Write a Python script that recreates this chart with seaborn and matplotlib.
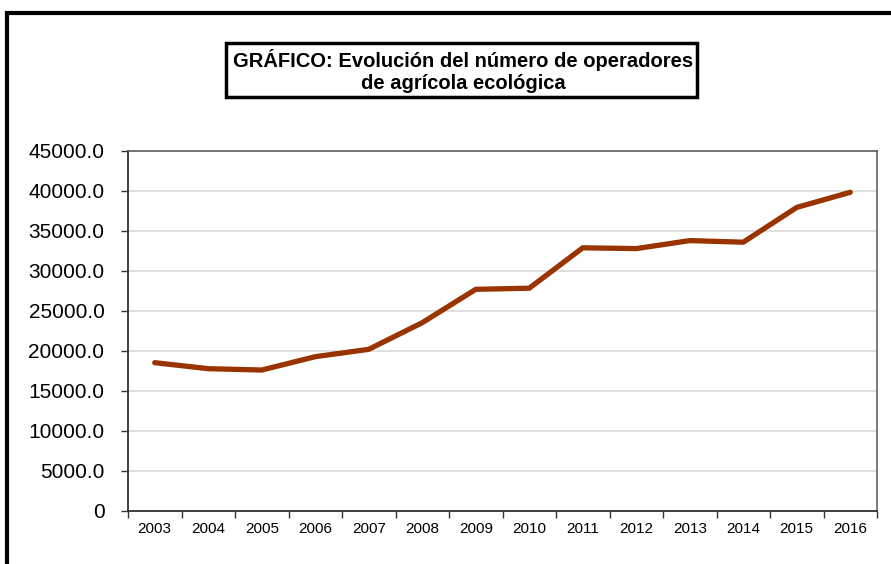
import numpy as np
import pandas as pd
import seaborn as sns
from matplotlib import pyplot as plt
from matplotlib.patches import Rectangle
from matplotlib.ticker import FuncFormatter, FixedLocator

# datos
anios = ['2003', '2004', '2005', '2006', '2007', '2008', '2009',
         '2010', '2011', '2012', '2013', '2014', '2015', '2016']
operadores = [18540, 17790, 17620, 19290, 20210, 23540, 27710,
              27850, 32900, 32800, 33800, 33600, 37950, 39840]

df = pd.DataFrame({'anio': anios, 'operadores': operadores})

sns.set_theme(style='white')
plt.rcParams['font.family'] = ['Liberation Sans', 'DejaVu Sans']

fig = plt.figure(figsize=(8.91, 5.64), dpi=100)
ax = fig.add_axes([128 / 891, 1 - 511 / 564, (877 - 128) / 891, 360 / 564])

sns.lineplot(data=df, x='anio', y='operadores', ax=ax, color='#993300',
             linewidth=3.8, sort=False)

ax.set_xlim(-0.5, len(anios) - 0.5)
ax.set_ylim(0, 45000)
ax.set_yticks(np.arange(0, 45001, 5000))
ax.yaxis.set_major_formatter(FuncFormatter(lambda v, p: '0' if v == 0 else f'{v:.1f}'))
ax.yaxis.grid(True, color='#d9d9d9', linewidth=1.2)
ax.set_axisbelow(True)
ax.set_xlabel('')
ax.set_ylabel('')

# ticks del eje x en los limites de cada categoria
ax.xaxis.set_minor_locator(FixedLocator(np.arange(-0.5, len(anios), 1)))
ax.tick_params(axis='x', which='major', length=0, labelsize=11, pad=8, colors='black')
ax.tick_params(axis='x', which='minor', length=5, width=1, color='#333333', bottom=True)
ax.tick_params(axis='y', which='major', length=5, width=1, color='#333333', left=True,
               labelsize=15, pad=12, labelcolor='black')

for lado in ['left', 'bottom']:
    ax.spines[lado].set_color('#333333')
    ax.spines[lado].set_linewidth(1.3)
for lado in ['top', 'right']:
    ax.spines[lado].set_color('#555555')
    ax.spines[lado].set_linewidth(1.1)

# marco exterior
fig.patches.append(Rectangle((7 / 891, -0.2), 1.2, 0.2 + (1 - 13 / 564),
                             transform=fig.transFigure, fill=False,
                             edgecolor='black', linewidth=3))

# caja del titulo
fig.patches.append(Rectangle((226 / 891, 1 - 97 / 564), (697 - 226) / 891, 54 / 564,
                             transform=fig.transFigure, fill=False,
                             edgecolor='black', linewidth=2.5))
fig.text(463 / 891, 1 - 71 / 564,
         'GRÁFICO: Evolución del número de operadores\nde agrícola ecológica',
         ha='center', va='center', fontsize=14.5, fontweight='bold',
         linespacing=1.15, color='black')

plt.savefig('out.png', dpi=100)
